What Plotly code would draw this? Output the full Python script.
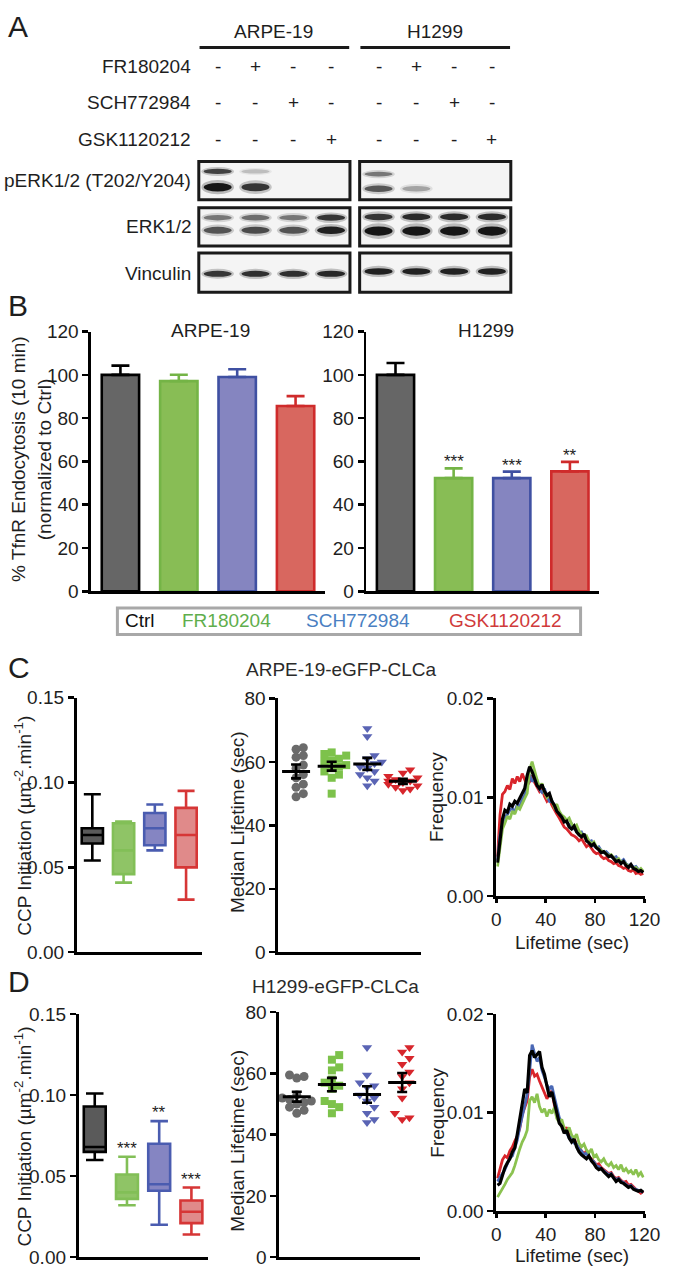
import numpy as np
import plotly.graph_objects as go

W, H = 677, 1277
FONT = "Liberation Sans, Arial, Helvetica, sans-serif"
INK = "#1e1e1e"
FS = 19

# ---------------- data ----------------
treatments = ["Ctrl", "FR180204", "SCH772984", "GSK1120212"]
inhibitors = ["FR180204", "SCH772984", "GSK1120212"]
cell_lines = ["ARPE-19", "H1299"]
blot_names = ["pERK1/2 (T202/Y204)", "ERK1/2", "Vinculin"]
lane_fr180204 = [0, 1, 0, 0]
lane_sch772984 = [0, 0, 1, 0]
lane_gsk1120212 = [0, 0, 0, 1]

# western blot band intensities (0-1), lanes 1-4
perk_upper_arpe = [0.80, 0.22, 0.0, 0.0]
perk_lower_arpe = [1.00, 0.85, 0.0, 0.0]
perk_upper_h1299 = [0.55, 0.0, 0.0, 0.0]
perk_lower_h1299 = [0.70, 0.35, 0.0, 0.0]
erk_upper_arpe = [0.55, 0.60, 0.55, 0.85]
erk_lower_arpe = [0.72, 0.76, 0.72, 0.95]
erk_upper_h1299 = [0.85, 0.90, 0.90, 0.90]
erk_lower_h1299 = [1.00, 1.00, 1.00, 1.00]
vinculin_arpe = [0.85, 0.88, 0.88, 0.92]
vinculin_h1299 = [0.95, 0.95, 0.95, 0.95]

# B: TfnR endocytosis (% of Ctrl)
tfnr_arpe = [100.0, 97.1, 99.0, 85.6]
tfnr_arpe_sem = [4.3, 3.0, 3.6, 4.6]
tfnr_h1299 = [100.0, 52.3, 52.3, 55.4]
tfnr_h1299_sem = [5.5, 4.5, 3.0, 4.4]
tfnr_h1299_sig = ["", "***", "***", "**"]

# C/D: CCP initiation box plots (um^-2 min^-1)
ccp_arpe_min = [0.054, 0.041, 0.060, 0.031]
ccp_arpe_q1 = [0.064, 0.046, 0.063, 0.050]
ccp_arpe_med = [0.069, 0.060, 0.073, 0.069]
ccp_arpe_q3 = [0.073, 0.076, 0.082, 0.085]
ccp_arpe_max = [0.093, 0.077, 0.087, 0.095]

ccp_h1299_min = [0.060, 0.032, 0.020, 0.014]
ccp_h1299_q1 = [0.065, 0.036, 0.041, 0.021]
ccp_h1299_med = [0.068, 0.040, 0.045, 0.028]
ccp_h1299_q3 = [0.093, 0.051, 0.070, 0.035]
ccp_h1299_max = [0.101, 0.062, 0.084, 0.043]
ccp_h1299_sig = ["", "***", "**", "***"]

# C/D: median lifetimes per cell (sec)
life_arpe_ctrl = [64.5, 64, 62, 61.5, 59, 58, 56, 55, 53, 52, 50, 49]
life_arpe_fr = [63, 62.5, 62, 61, 60.5, 60, 59, 58.5, 58, 57, 56, 55, 50]
life_arpe_sch = [70.5, 68, 62, 61, 60, 59.5, 58.5, 58, 57, 56, 55, 54, 52.5]
life_arpe_gsk = [57.5, 56.5, 55.5, 55, 54.5, 54, 54, 53.5, 53, 52.5, 52, 51.5, 51]
life_arpe_sem = [2.2, 1.4, 1.9, 0.8]

life_h1299_ctrl = [59.5, 59, 58.5, 53, 52, 51.5, 51, 50.5, 50, 49, 48, 47]
life_h1299_fr = [66, 64.5, 62, 61, 58, 57, 56, 55, 51, 50, 49, 47]
life_h1299_sch = [68.5, 59.5, 57, 56, 55.5, 53, 52, 51, 49, 47, 45, 44]
life_h1299_gsk = [68.5, 67, 65, 63, 60.5, 59, 57, 55, 52, 47, 45, 45.5]
life_h1299_sem = [1.6, 2.2, 2.7, 3.1]

# C/D: lifetime distributions (frequency x 1e-3), bins of 2 s
lifetime_bins = list(range(1, 120, 2))
freq_arpe_ctrl = [3.4, 6.0, 7.8, 8.7, 8.5, 9.3, 9.1, 9.6, 9.4, 9.9,
                  10.4, 10.9, 12.2, 13.1, 12.6, 12.0, 11.2, 10.9, 11.3, 10.6,
                  10.2, 10.4, 9.6, 9.2, 8.6, 8.3, 8.0, 7.5, 7.6, 7.0,
                  6.8, 7.1, 6.5, 6.2, 6.0, 6.3, 5.6, 5.4, 5.1, 5.3,
                  4.9, 4.7, 4.4, 4.5, 4.2, 4.0, 4.1, 3.8, 3.5, 3.6,
                  3.3, 3.5, 3.1, 2.9, 3.2, 2.8, 2.7, 2.5, 2.6, 2.4]
freq_arpe_fr = [3.0, 5.2, 6.8, 7.4, 8.1, 7.8, 8.6, 8.3, 9.0, 8.8,
                9.4, 9.9, 10.4, 12.8, 13.6, 12.6, 11.8, 11.0, 11.4, 10.5,
                10.0, 10.3, 9.7, 9.0, 9.3, 8.6, 8.2, 8.0, 7.7, 7.9,
                7.3, 7.0, 7.2, 6.6, 6.3, 6.0, 6.1, 5.6, 5.3, 5.5,
                5.0, 4.8, 4.6, 4.5, 4.3, 4.1, 4.2, 3.9, 3.6, 3.8,
                3.4, 3.5, 3.2, 3.0, 3.1, 2.8, 2.9, 2.6, 2.8, 2.5]
freq_arpe_sch = [3.6, 6.2, 7.2, 7.9, 8.3, 8.7, 8.9, 8.5, 9.3, 9.1,
                 9.8, 10.2, 11.0, 12.3, 11.6, 11.9, 11.3, 10.8, 10.5, 10.9,
                 10.1, 9.6, 9.7, 9.1, 8.6, 8.4, 8.1, 7.7, 7.4, 7.2,
                 7.3, 6.8, 6.6, 6.4, 6.5, 6.0, 5.8, 5.5, 5.6, 5.1,
                 4.9, 5.0, 4.6, 4.4, 4.5, 4.2, 4.0, 3.9, 4.0, 3.6,
                 3.5, 3.7, 3.3, 3.1, 3.2, 2.9, 3.0, 2.7, 2.6, 2.5]
freq_arpe_gsk = [4.0, 8.2, 10.3, 10.6, 11.2, 10.8, 11.9, 11.4, 12.1, 11.6,
                 12.4, 11.8, 11.2, 11.6, 12.2, 11.5, 11.0, 10.6, 10.9, 10.1,
                 9.6, 9.9, 9.2, 8.7, 8.3, 7.9, 7.5, 7.0, 6.8, 6.5,
                 6.2, 6.1, 5.9, 5.6, 5.8, 5.4, 5.0, 5.2, 4.8, 4.5,
                 4.3, 4.4, 4.0, 3.8, 3.9, 3.6, 3.5, 3.3, 3.4, 3.1,
                 3.0, 2.8, 2.9, 2.6, 2.5, 2.7, 2.3, 2.4, 2.2, 2.3]
freq_h1299_ctrl = [2.6, 2.8, 3.6, 4.4, 4.9, 5.3, 6.0, 6.4, 7.8, 9.3,
                   11.0, 12.4, 12.0, 15.8, 16.3, 15.6, 15.9, 16.2, 14.6, 13.9,
                   12.7, 11.6, 12.1, 11.0, 9.8, 8.9, 8.6, 7.9, 8.2, 7.4,
                   7.0, 7.3, 6.5, 6.0, 5.7, 5.5, 5.3, 5.6, 5.1, 4.8,
                   4.4, 4.2, 4.3, 4.0, 3.8, 3.5, 3.7, 3.3, 3.0, 3.2,
                   2.9, 2.8, 2.6, 2.4, 2.5, 2.2, 2.1, 2.0, 2.1, 1.9]
freq_h1299_fr = [1.4, 1.8, 2.3, 2.7, 3.2, 3.5, 3.9, 4.6, 5.5, 6.3,
                 7.0, 7.5, 8.2, 11.2, 11.6, 11.0, 11.9, 10.6, 10.0, 10.4,
                 9.6, 10.3, 9.9, 10.5, 9.4, 9.0, 9.3, 8.4, 8.0, 8.5,
                 7.7, 7.4, 7.8, 6.9, 6.5, 6.8, 6.2, 5.9, 6.3, 5.5,
                 5.7, 5.2, 5.0, 5.3, 4.8, 4.6, 4.9, 4.4, 4.6, 4.2,
                 4.7, 4.0, 4.3, 3.9, 4.1, 3.7, 4.2, 3.6, 3.9, 3.4]
freq_h1299_sch = [3.0, 3.4, 3.9, 4.2, 4.8, 5.4, 5.6, 6.3, 7.2, 8.5,
                  9.6, 10.6, 11.8, 14.2, 16.9, 16.0, 15.2, 15.6, 14.3, 13.6,
                  12.8, 12.4, 12.7, 11.6, 10.4, 9.5, 8.9, 8.3, 7.9, 7.4,
                  7.6, 6.9, 6.8, 6.3, 6.1, 5.7, 5.9, 5.4, 5.2, 5.0,
                  4.6, 4.5, 4.3, 4.1, 3.9, 3.7, 3.8, 3.4, 3.2, 3.3,
                  3.0, 2.9, 2.7, 2.5, 2.6, 2.3, 2.2, 2.1, 2.0, 1.9]
freq_h1299_gsk = [3.3, 4.2, 5.2, 5.6, 5.4, 6.1, 6.5, 7.1, 7.6, 8.4,
                  9.8, 10.5, 11.2, 13.6, 14.4, 13.7, 13.9, 13.2, 12.6, 12.0,
                  11.4, 11.9, 12.2, 10.8, 9.7, 9.1, 8.7, 8.2, 8.5, 7.6,
                  7.3, 7.4, 6.7, 6.4, 6.0, 5.8, 6.1, 5.5, 5.3, 5.0,
                  4.7, 4.8, 4.4, 4.2, 4.0, 3.8, 3.9, 3.5, 3.3, 3.4,
                  3.1, 2.9, 3.0, 2.6, 2.7, 2.4, 2.2, 2.0, 1.8, 2.0]

# ---------------- style ----------------
BAR_FILL = ["#666666", "#88bd55", "#8585c0", "#d8675f"]
BAR_LINE = ["#000000", "#74b446", "#3f50a2", "#cf2b2b"]
BOX_FILL = ["#5a5a5a", "#8fc466", "#8585c2", "#e08a8a"]
BOX_LINE = ["#000000", "#82bf57", "#4a5cb0", "#d63636"]
DOT_COL = ["#6b6b6b", "#7dc24b", "#5a64b4", "#d7262c"]
DOT_SYM = ["circle", "square", "triangle-down", "triangle-down"]
CURVE_COL = ["#000000", "#8bc250", "#4a68b5", "#d9252b"]
LEG_COL = ["#111111", "#5fae4c", "#4a7fc2", "#d03a3a"]

fig = go.Figure()
ANN, SHP = [], []


def px2x(x):
    return x / W


def px2y(y):
    return 1 - y / H


def text(s, x, y, size=FS, color=INK, xanchor="center", yanchor="middle",
         angle=0, xref="paper", yref="paper", yshift=0):
    ANN.append(dict(text=s, x=px2x(x) if xref == "paper" else x,
                    y=px2y(y) if yref == "paper" else y, xref=xref, yref=yref,
                    showarrow=False, xanchor=xanchor, yanchor=yanchor,
                    textangle=angle, yshift=yshift,
                    font=dict(family=FONT, size=size, color=color)))


def axes(n, xpx, ypx, xr, yr, xkw, ykw):
    s = "" if n == 1 else str(n)
    fig.update_layout({
        f"xaxis{s}": dict(domain=[px2x(xpx[0]), px2x(xpx[1])], range=xr,
                          anchor=f"y{s}", **xkw),
        f"yaxis{s}": dict(domain=[px2y(ypx[1]), px2y(ypx[0])], range=yr,
                          anchor=f"x{s}", **ykw)})
    return f"x{s}", f"y{s}"


LINE = dict(showline=True, linecolor="black", linewidth=2.8, showgrid=False,
            zeroline=False, fixedrange=True)
XCAT = dict(LINE, ticks="", showticklabels=False)
TICKS = dict(ticks="outside", ticklen=6, tickwidth=2.5, tickcolor="black",
             tickfont=dict(family=FONT, size=FS, color=INK))
HIDDEN = dict(visible=False, fixedrange=True)

# ---------------- panel A: western blots ----------------
text("A", 13, 17, size=30)
blot_rows_px = [(154, 193), (201, 240), (247, 287)]
blot_cols_px = [(200, 356), (366, 522)]
bands = [
    [[(0.74, perk_upper_arpe, 0.075), (0.33, perk_lower_arpe, 0.11)],
     [(0.67, perk_upper_h1299, 0.075), (0.29, perk_lower_h1299, 0.095)]],
    [[(0.74, erk_upper_arpe, 0.085), (0.41, erk_lower_arpe, 0.10)],
     [(0.76, erk_upper_h1299, 0.09), (0.39, erk_lower_h1299, 0.12)]],
    [[(0.47, vinculin_arpe, 0.08)], [(0.53, vinculin_h1299, 0.085)]],
]
blot_axes = {}
n = 9
for r, (yt, yb) in enumerate(blot_rows_px):
    for c, (xl, xrr) in enumerate(blot_cols_px):
        xa, ya = axes(n, (xl, xrr), (yt, yb), [-0.5, 3.5], [0, 1], HIDDEN, HIDDEN)
        blot_axes[(r, c)] = (xa, ya)
        SHP.append(dict(type="rect", xref=f"{xa} domain", yref=f"{ya} domain",
                        x0=0, x1=1, y0=0, y1=1, fillcolor="#f4f4f4",
                        line=dict(color="#1a1a1a", width=3), layer="below"))
        for yc, vals, hh in bands[r][c]:
            for lane, v in enumerate(vals):
                if v <= 0:
                    continue
                g = int(238 - 225 * v)
                col = f"rgb({g},{g},{g})"
                h = hh * (0.65 + 0.35 * v)
                SHP.append(dict(type="circle", xref=xa, yref=ya,
                                x0=lane - 0.43, x1=lane + 0.43,
                                y0=yc - h * 1.7, y1=yc + h * 1.7,
                                fillcolor=col, opacity=0.25, line=dict(width=0)))
                SHP.append(dict(type="circle", xref=xa, yref=ya,
                                x0=lane - 0.37, x1=lane + 0.37,
                                y0=yc - h, y1=yc + h,
                                fillcolor=col, opacity=0.95, line=dict(width=0)))
        n += 1

for c, name in enumerate(cell_lines):
    xa, ya = blot_axes[(0, c)]
    text(name, [277, 444][c], 22)
    SHP.append(dict(type="line", xref=f"{xa} domain", yref="paper",
                    x0=0.005, x1=0.995, y0=px2y(38), y1=px2y(38),
                    line=dict(color="#1a1a1a", width=3)))
    for k, row in enumerate([lane_fr180204, lane_sch772984, lane_gsk1120212]):
        for lane, on in enumerate(row):
            text("+" if on else "-", lane, [57, 94, 132][k], xref=xa)

for k, name in enumerate(inhibitors):
    text(name, 194, [57, 94, 132][k], xanchor="right")
for k, name in enumerate(blot_names):
    text(name, 194, [173, 220, 268][k], xanchor="right")

# ---------------- panel B: TfnR endocytosis ----------------
text("B", 13, 300, size=30)
YB = dict(LINE, **TICKS, tickvals=[0, 20, 40, 60, 80, 100, 120])
bx1 = axes(1, (89, 330), (327, 591), [-0.5, 3.5], [0, 120], XCAT, YB)
bx2 = axes(2, (373, 613), (327, 591), [-0.5, 3.5], [0, 120], XCAT, YB)
for (xa, ya), vals, sems in [(bx1, tfnr_arpe, tfnr_arpe_sem),
                              (bx2, tfnr_h1299, tfnr_h1299_sem)]:
    for i in range(4):
        fig.add_trace(go.Bar(
            x=[i], y=[vals[i]], width=0.64, xaxis=xa, yaxis=ya,
            marker=dict(color=BAR_FILL[i], line=dict(color=BAR_LINE[i], width=2.6)),
            error_y=dict(type="data", symmetric=False, array=[sems[i]],
                         arrayminus=[0], color=BAR_LINE[i], thickness=2.6, width=9),
            hoverinfo="skip"))
for i, s in enumerate(tfnr_h1299_sig):
    if s:
        text(s, i, tfnr_h1299[i] + tfnr_h1299_sem[i], size=17, xref=bx2[0],
             yref=bx2[1], yanchor="bottom", yshift=-5)
text("ARPE-19", 212, 326)
text("H1299", 496, 326)
text("% TfnR Endocytosis (10 min)", 14, 457, angle=-90)
text("(normalized to Ctrl)", 41, 457, angle=-90)
SHP.append(dict(type="rect", xref="paper", yref="paper", x0=px2x(116),
                x1=px2x(594), y0=px2y(635), y1=px2y(608),
                line=dict(color="#a8a8a8", width=3)))
for i, name in enumerate(treatments):
    text(name, [139, 229, 364, 517][i], 621, color=LEG_COL[i])


# ---------------- panels C / D ----------------
def swarm_offsets(vals, ypx_per_unit, xpx_per_unit, d=7.5):
    vals = np.asarray(vals, float)
    order = np.argsort(vals)
    placed, out = [], np.zeros(len(vals))
    steps = [0, 1, -1, 2, -2, 3, -3, 4, -4]
    for k in order:
        yv = vals[k] * ypx_per_unit
        for st in steps:
            xv = st * d * 0.5
            if all((xv - a) ** 2 + (yv - b) ** 2 >= d * d for a, b in placed):
                break
        placed.append((xv, yv))
        out[k] = xv / xpx_per_unit
    return out


YCCP = dict(LINE, **TICKS, tickvals=[0, 0.05, 0.10, 0.15], tickformat=".2f")
YMED = dict(LINE, **TICKS, tickvals=[0, 20, 40, 60, 80])
XFRQ = dict(LINE, ticks="outside", ticklen=4, tickwidth=2.5, tickcolor="black",
            tickfont=dict(family=FONT, size=FS, color=INK), tickvals=[0, 40, 80, 120])
YFRQ = dict(LINE, **TICKS, tickvals=[0, 0.01, 0.02], tickformat=".2f")

panels = [
    dict(label="C", label_y=669, title="ARPE-19-eGFP-CLCa", title_xy=(347, 671),
         ccp=(ccp_arpe_min, ccp_arpe_q1, ccp_arpe_med, ccp_arpe_q3, ccp_arpe_max),
         sig=None, ccp_px=((74, 203), (699, 958)),
         life=[life_arpe_ctrl, life_arpe_fr, life_arpe_sch, life_arpe_gsk],
         sem=life_arpe_sem, med_px=((282, 429), (700, 958)),
         freq=[freq_arpe_gsk, freq_arpe_sch, freq_arpe_fr, freq_arpe_ctrl],
         frq_px=((507, 660), (700, 901)), n0=3,
         ccp_title_y=829, med_title_y=826, frq_title_y=800, lt_y=948),
    dict(label="D", label_y=988, title="H1299-eGFP-CLCa", title_xy=(341, 993),
         ccp=(ccp_h1299_min, ccp_h1299_q1, ccp_h1299_med, ccp_h1299_q3, ccp_h1299_max),
         sig=ccp_h1299_sig, ccp_px=((76, 209), (1021, 1268)),
         life=[life_h1299_ctrl, life_h1299_fr, life_h1299_sch, life_h1299_gsk],
         sem=life_h1299_sem, med_px=((283, 428), (1019, 1268)),
         freq=[freq_h1299_gsk, freq_h1299_sch, freq_h1299_fr, freq_h1299_ctrl],
         frq_px=((507, 660), (1021, 1221)), n0=6,
         ccp_title_y=1145, med_title_y=1150, frq_title_y=1121, lt_y=1266),
]

for P in panels:
    text(P["label"], 14, P["label_y"], size=30)
    text(P["title"], *P["title_xy"], color="#2a2a2a")
    # box plot
    xa, ya = axes(P["n0"], *P["ccp_px"], [-0.5, 3.5], [0, 0.15], XCAT, YCCP)
    lo, q1, md, q3, hi = P["ccp"]
    for i in range(4):
        fig.add_trace(go.Box(
            x=[i], lowerfence=[lo[i]], q1=[q1[i]], median=[md[i]], q3=[q3[i]],
            upperfence=[hi[i]], width=0.68, whiskerwidth=0.8, boxpoints=False,
            fillcolor=BOX_FILL[i], line=dict(color=BOX_LINE[i], width=2.6),
            xaxis=xa, yaxis=ya, hoverinfo="skip"))
        if P["sig"] and P["sig"][i]:
            text(P["sig"][i], i, hi[i], size=17, xref=xa, yref=ya,
                 yanchor="bottom", yshift=-3)
    text("CCP Initiation (µm<sup>-2</sup>.min<sup>-1</sup>)", 19,
         P["ccp_title_y"], angle=-90)
    # median lifetime scatter
    (mx0, mx1), (my0, my1) = P["med_px"]
    xa, ya = axes(P["n0"] + 1, *P["med_px"], [-0.5, 3.5], [0, 80], XCAT, YMED)
    ypu = (my1 - my0) / 80.0
    xpu = (mx1 - mx0) / 4.0
    for i, vals in enumerate(P["life"]):
        off = swarm_offsets(vals, ypu, xpu)
        fig.add_trace(go.Scatter(
            x=i + off, y=vals, mode="markers", xaxis=xa, yaxis=ya,
            marker=dict(symbol=DOT_SYM[i], size=9 if i != 1 else 8,
                        color=DOT_COL[i], line=dict(width=0)),
            hoverinfo="skip", cliponaxis=False))
    for i, vals in enumerate(P["life"]):
        fig.add_trace(go.Scatter(
            x=[i], y=[float(np.mean(vals))], mode="markers", xaxis=xa, yaxis=ya,
            marker=dict(symbol="line-ew", size=20, color="black",
                        line=dict(width=3, color="black")),
            error_y=dict(type="data", array=[P["sem"][i]], color="black",
                         thickness=2.6, width=5),
            hoverinfo="skip"))
    text("Median Lifetime (sec)", 240, P["med_title_y"], angle=-90)
    # lifetime distribution
    xa, ya = axes(P["n0"] + 2, *P["frq_px"], [0, 120], [0, 0.02], XFRQ, YFRQ)
    cols = [CURVE_COL[3], CURVE_COL[2], CURVE_COL[1], CURVE_COL[0]]
    for k, curve in enumerate(P["freq"]):
        fig.add_trace(go.Scatter(
            x=lifetime_bins, y=np.array(curve) / 1000.0, mode="lines",
            xaxis=xa, yaxis=ya, hoverinfo="skip",
            line=dict(color=cols[k], width=3.2 if k == 3 else 2.8)))
    text("Frequency", 446, P["frq_title_y"], angle=-90)
    text("Lifetime (sec)", 585, P["lt_y"])

fig.update_layout(
    width=W, height=H, margin=dict(l=0, r=0, t=0, b=0),
    paper_bgcolor="white", plot_bgcolor="white", showlegend=False,
    barmode="overlay", boxmode="overlay",
    font=dict(family=FONT, size=FS, color=INK),
    annotations=ANN, shapes=SHP)

fig.write_html(
    "out.html",
    config={"displayModeBar": False, "staticPlot": True},
    post_script="document.documentElement.style.margin='0';"
                "document.body.style.margin='0';document.body.style.padding='0';"
                "document.body.style.overflow='hidden';")
